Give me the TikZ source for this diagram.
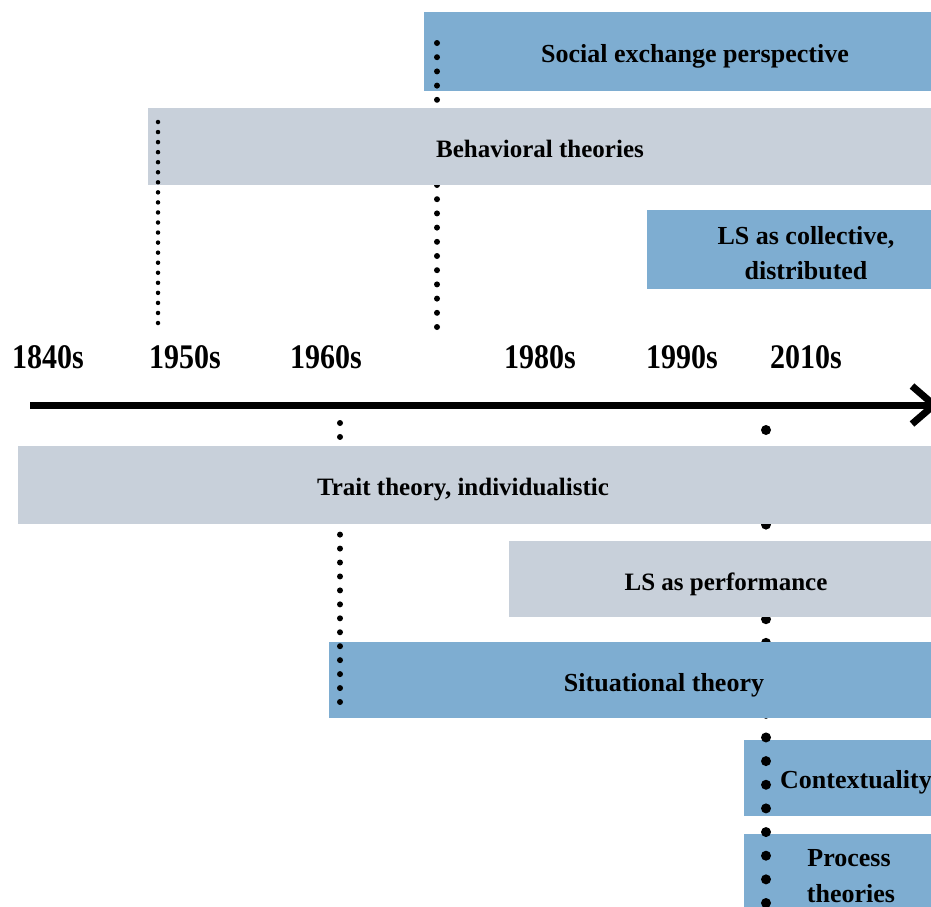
\documentclass[tikz,border=0pt]{standalone}
\usepackage{fontspec}
\setmainfont{Liberation Serif}
\definecolor{bblue}{HTML}{7EADD1}
\definecolor{bgray}{HTML}{C8D0DA}
\begin{document}
\begin{tikzpicture}[x=1pt,y=-1pt,
  lbl/.style={font=\bfseries\fontsize{26}{30}\selectfont, inner sep=0pt, anchor=base},
  lbls/.style={font=\bfseries\fontsize{25}{30}\selectfont, inner sep=0pt, anchor=base},
  yr/.style={font=\bfseries\fontsize{30}{34}\selectfont, inner sep=0pt, anchor=base},
  dotsA/.style={line width=4.5pt, line cap=round, dash pattern=on 0pt off 10.05pt},
  dotsB/.style={line width=6pt, line cap=round, dash pattern=on 0pt off 14.2pt},
  dotsD/.style={line width=6pt, line cap=round, dash pattern=on 0pt off 13.95pt},
  dotsC/.style={line width=10pt, line cap=round, dash pattern=on 0pt off 23.65pt},
  axis/.style={line width=7pt}]
\useasboundingbox (0,0) rectangle (931,906);
% ---- upper part ----
\fill[bblue] (424,12) rectangle (980,91);
\node[lbl] (social) at (695,62) {Social exchange perspective};
\coordinate (d70a) at (437,43);
\coordinate (d70b) at (437,333);
\draw[dotsB] (d70a) -- (d70b);
\fill[bgray] (148,108) rectangle (980,185);
\node[lbls] (behav) at (540,157) {Behavioral theories};
\coordinate (d50a) at (158,122);
\coordinate (d50b) at (158,325);
\draw[dotsA] (d50a) -- (d50b);
\fill[bblue] (647,210) rectangle (980,289);
\node[lbl] (coll1) at (806,244) {LS as collective,};
\node[lbl] (coll2) at (806,279) {distributed};
% ---- years ----
\node[yr] (y1840) at (48,368) {\scalebox{1}[1.15]{1840s}};
\node[yr] (y1950) at (185,368) {\scalebox{1}[1.15]{1950s}};
\node[yr] (y1960) at (326,368) {\scalebox{1}[1.15]{1960s}};
\node[yr] (y1980) at (540,368) {\scalebox{1}[1.15]{1980s}};
\node[yr] (y1990) at (682,368) {\scalebox{1}[1.15]{1990s}};
\node[yr] (y2010) at (806,368) {\scalebox{1}[1.15]{2010s}};
% ---- axis ----
\coordinate (axs) at (30,405);
\coordinate (axe) at (934,405);
\draw[axis] (axs) -- (axe);
\draw[axis, line join=miter] ([shift={(-22,-19)}]axe) -- (axe) -- ([shift={(-22,19)}]axe);
% ---- lower part ----
\fill[bblue] (744,740) rectangle (980,816);
\node[lbl] (ctx) at (856,788) {Contextuality};
\fill[bblue] (744,834) rectangle (980,930);
\node[lbl] (proc1) at (849,866) {Process};
\node[lbl] (proc2) at (851,902) {theories};
\coordinate (d10a) at (766,430);
\coordinate (d10b) at (766,920);
\draw[dotsC] (d10a) -- (d10b);
\fill[bblue] (329,642) rectangle (980,718);
\node[lbl] (sit) at (664,691) {Situational theory};
\coordinate (d60a) at (340,423);
\coordinate (d60b) at (340,706);
\draw[dotsD] (d60a) -- (d60b);
\fill[bgray] (18,446) rectangle (980,524);
\node[lbls] (trait) at (463,495) {Trait theory, individualistic};
\fill[bgray] (509,541) rectangle (980,617);
\node[lbls] (perf) at (726,590) {LS as performance};
\end{tikzpicture}
\end{document}
